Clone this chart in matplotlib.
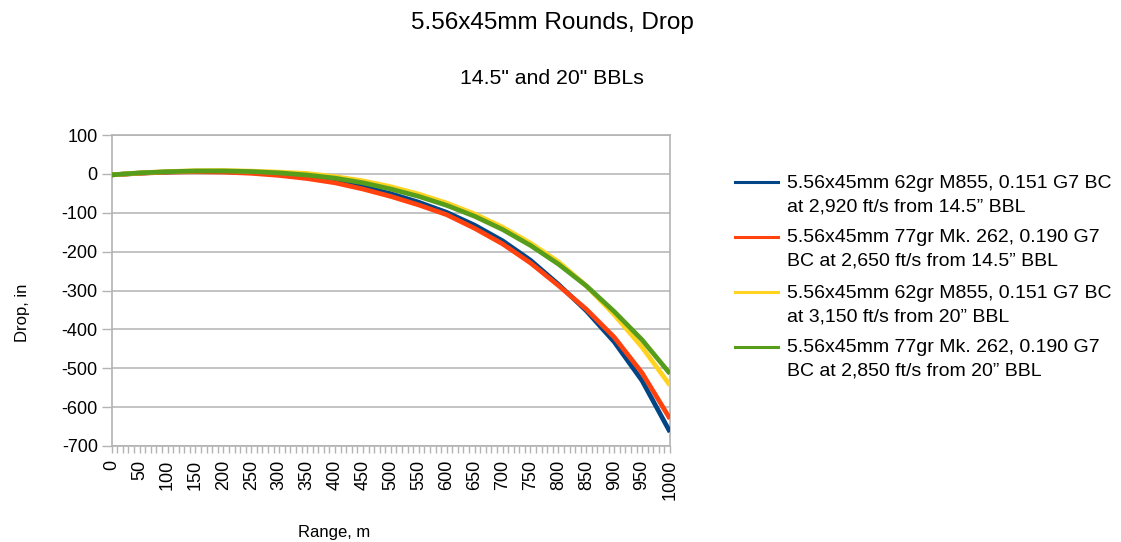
import matplotlib
matplotlib.use("Agg")
import matplotlib.pyplot as plt
from matplotlib.lines import Line2D

# дальность, м
range_m = [0, 50, 100, 150, 200, 250, 300, 350, 400, 450, 500,
           550, 600, 650, 700, 750, 800, 850, 900, 950, 1000]

# снижение, дюймы
drop_m855_145 = [-2.5, 2, 5, 6.5, 6, 3.5, -1.5, -9, -19, -33, -51,
                 -73, -99, -132, -172, -222, -284, -352, -432, -532, -664]
drop_mk262_145 = [-2.5, 1.5, 4.5, 5.5, 4.5, 1.5, -4, -12, -23, -39, -58,
                  -80, -105, -140, -180, -229, -287, -348, -420, -512, -630]
drop_m855_20 = [-2.5, 2.5, 6, 8, 8.5, 7, 4.5, 1, -7, -18, -33,
                -52, -75, -103, -137, -178, -226, -288, -362, -446, -544]
drop_mk262_20 = [-2.5, 2.5, 5.5, 7.5, 7.5, 6, 2.5, -3, -11, -23, -39,
                 -58, -81, -109, -143, -184, -232, -288, -354, -427, -514]

series = [drop_m855_145, drop_mk262_145, drop_m855_20, drop_mk262_20]
colors = ["#004586", "#ff420e", "#ffd320", "#579d1c"]
labels = [
    "5.56x45mm 62gr M855, 0.151 G7 BC\nat 2,920 ft/s from 14.5\u201d BBL",
    "5.56x45mm 77gr Mk. 262, 0.190 G7\nBC at 2,650 ft/s from 14.5\u201d BBL",
    "5.56x45mm 62gr M855, 0.151 G7 BC\nat 3,150 ft/s from 20\u201d BBL",
    "5.56x45mm 77gr Mk. 262, 0.190 G7\nBC at 2,850 ft/s from 20\u201d BBL",
]
x_ticks = list(range(0, 1001, 50))
y_ticks = list(range(-700, 101, 100))

plt.rcParams['font.family'] = ['Liberation Sans', 'DejaVu Sans']
plt.rcParams['axes.unicode_minus'] = False

W, H = 1121, 542
fig = plt.figure(figsize=(W / 100, H / 100), dpi=100)
ax = fig.add_axes([111.7 / W, 1 - 446 / H, (670 - 111.7) / W, (446 - 135) / H])

grid_c = "#b3b3b3"
for y in y_ticks:
    ax.axhline(y, color=grid_c, lw=1.1, zorder=1)

for ys, c in zip(series, colors):
    ax.plot(range_m, ys, color=c, lw=3.4, solid_capstyle='butt', zorder=3)

ax.set_xlim(0, 1000)
ax.set_ylim(-700, 100)
ax.set_xticks(x_ticks)
ax.set_xticklabels([str(v) for v in x_ticks], rotation=90, fontsize=13)
ax.set_xticks(list(range(0, 1001, 10)), minor=True)
ax.set_yticks(y_ticks)
ax.set_yticklabels([str(v) for v in y_ticks], fontsize=13)
ax.tick_params(axis='x', which='both', direction='out', length=5, width=1,
               color=grid_c, pad=5)
ax.tick_params(axis='y', direction='out', length=7, width=1, color=grid_c, pad=3)
for s in ax.spines.values():
    s.set_color(grid_c)
    s.set_linewidth(1.2)

# заголовки
fig.text(552 / W, 1 - 23 / H, "5.56x45mm Rounds, Drop", ha='center', va='center', fontsize=17.5)
fig.text(552 / W, 1 - 79 / H, "14.5\" and 20\" BBLs", ha='center', va='center', fontsize=15.3)
fig.text(334 / W, 1 - 533 / H, "Range, m", ha='center', va='center', fontsize=12)
fig.text(22 / W, 1 - 313 / H, "Drop, in", ha='center', va='center', rotation=90, fontsize=12)

# легенда
for i, (lab, c) in enumerate(zip(labels, colors)):
    y0 = 182 + 55 * i
    fig.add_artist(Line2D([735 / W, 778 / W], [1 - y0 / H, 1 - y0 / H], color=c, lw=2.2))
    for j, line in enumerate(lab.split("\n")):
        fig.text(787 / W, 1 - (y0 + 1 + 23.5 * j) / H, line, ha='left', va='center', fontsize=14)

fig.savefig("out.png", dpi=100)
